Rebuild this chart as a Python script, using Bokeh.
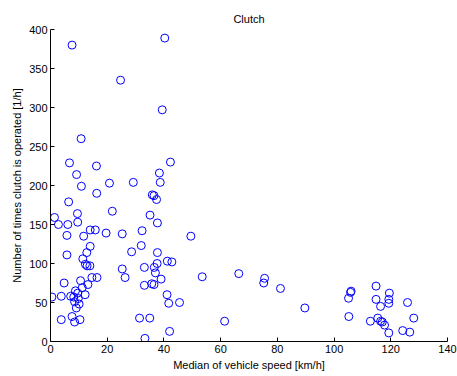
from bokeh.plotting import figure
from bokeh.models import Range1d, FixedTicker, ColumnDataSource
from bokeh.embed import file_html
from bokeh.resources import INLINE

title_text = "Clutch"
x_label = "Median of vehicle speed [km/h]"
y_label = "Number of times clutch is operated [1/h]"
x_ticks = [0, 20, 40, 60, 80, 100, 120, 140]
y_ticks = [0, 50, 100, 150, 200, 250, 300, 350, 400]

speed = [7.6, 40.3, 24.7, 39.4, 10.8, 6.7, 16.2, 42.3, 9.2, 38.4,
         10.9, 20.8, 29.2, 38.7, 16.3, 6.4, 35.9, 36.5, 37.4, 1.4,
         9.5, 21.8, 2.8, 6.1, 9.6, 35.1, 37.7, 5.8, 11.7, 14.0,
         15.8, 19.6, 25.3, 32.3, 49.5, 28.6, 32.0, 37.7, 5.8, 14.0,
         12.8, 11.4, 12.3, 12.9, 13.9, 25.3, 26.3, 33.1, 36.6, 37.6,
         37.0, 39.0, 41.2, 42.8, 14.6, 16.4, 4.8, 10.6, 13.2, 11.2,
         33.1, 35.7, 36.5, 0.5, 3.8, 7.1, 8.8, 9.6, 12.2, 8.2,
         9.8, 8.5, 10.1, 9.1, 41.1, 41.7, 45.5, 3.8, 7.6, 8.5,
         10.4, 31.4, 35.0, 42.0, 33.3, 53.5, 66.4, 75.5, 75.2, 81.1,
         89.7, 61.4, 106.0, 105.8, 105.1, 105.2, 114.8, 119.5, 114.8, 116.4,
         119.3, 119.3, 125.9, 128.1, 112.8, 115.4, 116.4, 117.0, 117.8, 119.3,
         124.2, 126.7]
operations = [380, 389, 335, 297, 260, 229, 225, 230, 214, 216,
              199, 203, 204, 204, 190, 179, 188, 187, 182, 159,
              164, 167, 150, 150, 153, 162, 152, 136, 135, 143,
              143, 139, 138, 142, 135, 115, 123, 114, 111, 122,
              114, 106, 99, 97, 97, 93, 82, 95, 95, 100,
              88, 80, 103, 102, 82, 82, 75, 78, 73, 69,
              72, 74, 73, 57, 58, 58, 65, 62, 60, 57,
              55, 51, 48, 43, 60, 49, 50, 28, 32, 25,
              28, 30, 30, 13, 4, 83, 87, 81, 75, 68,
              43, 26, 64.5, 63, 55.5, 32, 71, 62, 54, 45,
              54, 49, 50, 30, 26, 30, 26, 25, 21, 11,
              14, 12]

src = ColumnDataSource(dict(x=speed, y=operations))

p = figure(width=457, height=376, output_backend="svg", toolbar_location=None,
           x_range=Range1d(0, 140), y_range=Range1d(0, 400),
           min_border_left=50, min_border_right=10, min_border_top=29, min_border_bottom=35)

p.scatter("x", "y", source=src, marker="circle", size=8, fill_color=None,
          line_color="#0000ff", line_width=1)

p.title.text = title_text
p.title.align = "center"
p.title.text_font = "Liberation Sans"
p.title.text_font_size = "11px"
p.title.text_font_style = "normal"
p.title.text_color = "black"

p.grid.visible = False
p.outline_line_color = None
p.background_fill_color = "white"
p.border_fill_color = "white"

p.xaxis.ticker = FixedTicker(ticks=x_ticks)
p.yaxis.ticker = FixedTicker(ticks=y_ticks)
p.xaxis.axis_label = x_label
p.yaxis.axis_label = y_label
for ax in (p.xaxis, p.yaxis):
    ax.major_tick_in = 4
    ax.major_tick_out = 0
    ax.minor_tick_in = 0
    ax.minor_tick_out = 0
    ax.axis_line_color = "black"
    ax.major_tick_line_color = "black"
    ax.major_label_text_font = "Liberation Sans"
    ax.major_label_text_font_size = "11px"
    ax.major_label_text_color = "black"
    ax.axis_label_text_font = "Liberation Sans"
    ax.axis_label_text_font_size = "11px"
    ax.axis_label_text_font_style = "normal"
    ax.axis_label_text_color = "black"
    ax.major_label_standoff = 3
    ax.axis_label_standoff = 3

open("out.html", "w").write(file_html(p, INLINE))
